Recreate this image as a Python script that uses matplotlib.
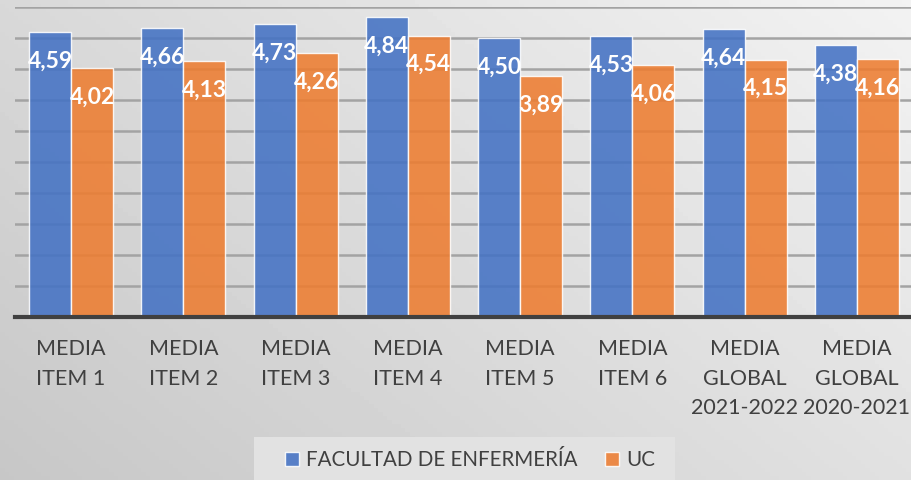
import numpy as np
import matplotlib.pyplot as plt
from matplotlib.patches import Rectangle

categorias = ['MEDIA\nITEM 1', 'MEDIA\nITEM 2', 'MEDIA\nITEM 3', 'MEDIA\nITEM 4',
              'MEDIA\nITEM 5', 'MEDIA\nITEM 6', 'MEDIA\nGLOBAL\n2021-2022',
              'MEDIA\nGLOBAL\n2020-2021']
enfermeria = [4.59, 4.66, 4.73, 4.84, 4.50, 4.53, 4.64, 4.38]
uc = [4.02, 4.13, 4.26, 4.54, 3.89, 4.06, 4.15, 4.16]
series = ['FACULTAD DE ENFERMERÍA', 'UC']

azul = '#4472C4'
naranja = '#ED7D31'
fuente = ['Lato', 'DejaVu Sans']
plt.rcParams['font.family'] = fuente

W, H = 911, 480
fig = plt.figure(figsize=(W / 100, H / 100), dpi=100)

# fondo degradado
bg = fig.add_axes([0, 0, 1, 1], zorder=-10)
xx, yy = np.meshgrid(np.linspace(0, 1, 200), np.linspace(0, 1, 120))
grad = 0.78 + 0.17 * (0.6 * xx + 0.4 * (1 - yy))
bg.imshow(grad, cmap='gray', vmin=0, vmax=1, aspect='auto', extent=[0, 1, 0, 1])
bg.axis('off')

# caja de la leyenda
bg.add_patch(Rectangle((254 / W, 0), (675 - 254) / W, (480 - 437) / H,
                       facecolor='#E2E2E2', edgecolor='none', transform=bg.transAxes))

ax = fig.add_axes([15 / W, (H - 317) / H, 898 / W, 310 / H])
ax.patch.set_alpha(0)

x = np.arange(len(categorias))
w = 0.375
b1 = ax.bar(x - w / 2, enfermeria, w, color=azul, alpha=0.88, edgecolor='#FFFFFF',
            linewidth=1.0, zorder=3, label=series[0])
b2 = ax.bar(x + w / 2, uc, w, color=naranja, alpha=0.88, edgecolor='#FFFFFF',
            linewidth=1.0, zorder=3, label=series[1])

for barras in (b1, b2):
    for r in barras:
        v = r.get_height()
        ax.annotate(f'{v:.2f}'.replace('.', ','), (r.get_x() + r.get_width() / 2, v),
                    xytext=(0, -29), textcoords='offset pixels',
                    ha='center', va='center', color='white', fontsize=16.5,
                    fontweight='bold', zorder=5)

ax.set_xlim(-0.5, 7.5)
ax.set_ylim(0, 5)
ax.set_yticks(np.arange(0, 5.01, 0.5))
ax.yaxis.grid(True, color='#A3A3A3', linewidth=1.8, zorder=0)
ax.tick_params(axis='y', length=0, labelleft=False)
ax.tick_params(axis='x', length=0, pad=16, labelsize=15.5, labelcolor='#404040')
ax.set_xticks(x)
ax.set_xticklabels(categorias, linespacing=1.6)
for s in ['top', 'right', 'left']:
    ax.spines[s].set_visible(False)
ax.spines['bottom'].set_color('#404040')
ax.spines['bottom'].set_linewidth(3)
ax.spines['bottom'].set_zorder(6)

leg = fig.legend(handles=[b1, b2], loc='center', bbox_to_anchor=(470 / W, (H - 460) / H),
                 ncol=2, frameon=False, fontsize=14.8, handlelength=0.7, handleheight=0.7,
                 handletextpad=0.35, columnspacing=1.3, labelcolor='#404040')

fig.savefig('out.png', dpi=100)
